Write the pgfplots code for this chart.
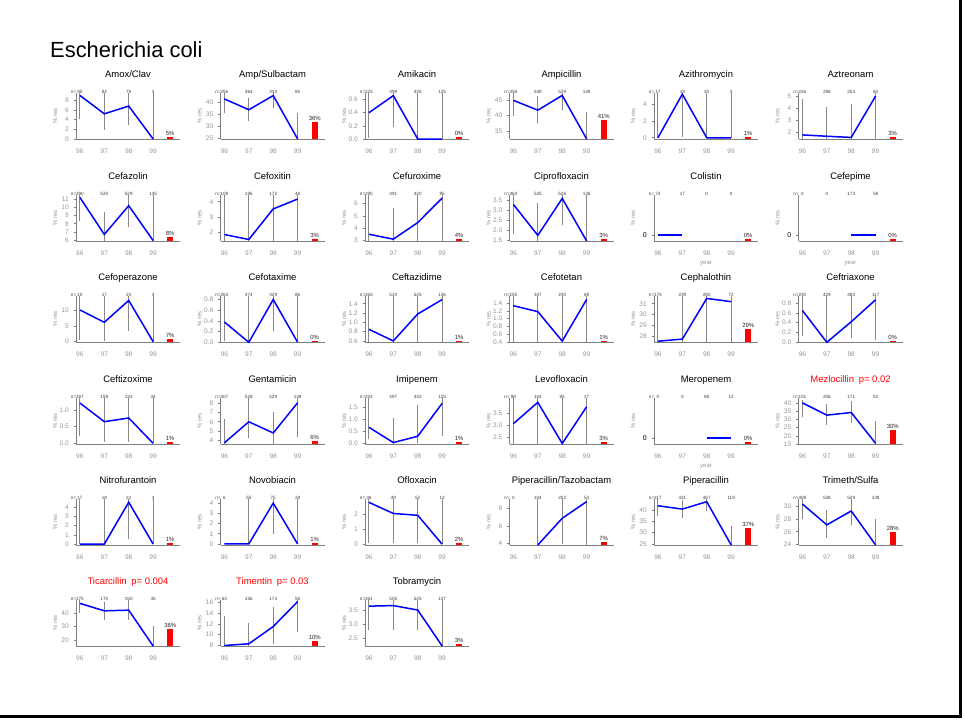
\documentclass[border=0pt]{standalone}
\usepackage{pgfplots}
\pgfplotsset{compat=1.18}
\usepackage{fontspec}
\setmainfont{Liberation Sans}
\definecolor{axgray}{RGB}{128,128,128}
\definecolor{labgray}{RGB}{150,150,150}
\definecolor{ebgray}{RGB}{135,135,135}
\definecolor{ngray}{RGB}{60,60,60}
\definecolor{pgray}{RGB}{40,40,40}
\def\cA{76bp}\def\cB{220.5bp}\def\cC{365bp}\def\cD{509.5bp}\def\cE{654bp}\def\cF{798.5bp}
\def\rA{139bp}\def\rB{241bp}\def\rC{342.3bp}\def\rD{444bp}\def\rE{545bp}\def\rF{646bp}
\pgfplotsset{
 pan/.style={
  width=104bp, height=46bp, scale only axis,
  xmin=95.84, xmax=100.1, xtick={96,97,98,99}, xticklabels={96,97,98,99},
  axis x line*=bottom, axis y line*=left,
  axis line style={draw=axgray, line width=0.9bp},
  xtick style={draw=none},
  ytick style={draw=axgray, line width=0.6bp},
  major tick length=2.5bp, tick align=outside,
  tick label style={font=\fontsize{6.6}{7}\selectfont, text=labgray},
  xticklabel style={yshift=-3.5bp},
  yticklabel style={xshift=-1.2bp},
  title style={font=\fontsize{9.5}{10}\selectfont, at={(0.5,1)}, anchor=base, yshift=9.5bp},
  clip=false, anchor=south west,
  /pgf/number format/assume math mode=true,
 },
 spec/.style={ymin=-0.15, ymax=1, ytick={0}, yticklabels={0},
  yticklabel style={text=black, font=\fontsize{7}{7}\selectfont},
  xlabel={year}, xlabel style={font=\fontsize{6}{6}\selectfont, text=labgray, at={(axis description cs:0.5,0)}, anchor=center, yshift=-23bp}},
}
\tikzset{nl/.style={font=\fontsize{4.6}{5}\selectfont, text=ngray, inner sep=0pt, yshift=1bp},
 pl/.style={font=\fontsize{6}{6}\selectfont, text=pgray, anchor=south, inner sep=1.2bp}}
\newcommand\eb[1]{\addplot[ebgray, line width=0.9bp, unbounded coords=jump, forget plot] coordinates {#1};}
\newcommand\bl[1]{\addplot[blue, line width=1.5bp, forget plot] coordinates {#1};}
\newcommand\pbar[1]{%
 \pgfmathsetmacro\bt{(\ymn)+max(#1/100,0.035)*((\ymx)-(\ymn))}%
 \addplot[fill=red, draw=none, forget plot] coordinates {(99.58,\ymn) (99.82,\ymn) (99.82,\bt) (99.58,\bt)} -- cycle;
 \node[pl] at (axis cs:99.7,\bt) {#1\%};}
\newcommand\nlab[4]{%
 \node[nl] at (axis cs:96,\ymx) {#1};
 \node[nl] at (axis cs:97,\ymx) {#2};
 \node[nl] at (axis cs:98,\ymx) {#3};
 \node[nl] at (axis cs:99,\ymx) {#4};
 \node[nl,anchor=east] at ([xshift=-3.5bp]axis cs:96,\ymx) {n=};}
\newcommand\yl{\node[rotate=90, font=\fontsize{6}{6}\selectfont, text=labgray] at ([xshift=-21bp]axis description cs:0,0.5) {\% res};}
\begin{document}
\begin{tikzpicture}
\useasboundingbox (0,0) rectangle (965bp,-723bp);
\fill[white] (0,0) rectangle (965bp,-723bp);
\draw[black, line width=2.5bp] (960.5bp,0) -- (960.5bp,-716.5bp) -- (0,-716.5bp);
\node[anchor=base west, font=\fontsize{22}{24}\selectfont, inner sep=0pt] at (50bp,-57bp) {Escherichia coli};

% ---------- Row 1
\def\ymn{0}\def\ymx{9.5}
\begin{axis}[pan, at={(\cA,-\rA)}, ymin=\ymn, ymax=\ymx, ytick={0,2,4,6,8}, yticklabels={0,2,4,6,8}, title={Amox/Clav}]
\eb{(96,4.1)(96,\ymx)(96,nan)(97,1.9)(97,\ymx)(97,nan)(98,2.8)(98,\ymx)(98,nan)(99,0)(99,\ymx)}
\bl{(96,9.0)(97,5.2)(98,6.8)(99,0)}
\pbar{5}\nlab{90}{84}{79}{4}\yl
\end{axis}

\def\ymn{24.6}\def\ymx{44.1}
\begin{axis}[pan, at={(\cB,-\rA)}, ymin=\ymn, ymax=\ymx, ytick={25,30,35,40}, yticklabels={25,30,35,40}, title={Amp/Sulbactam}]
\eb{(96,35.6)(96,\ymx)(96,nan)(97,32.3)(97,42.1)(97,nan)(98,37.6)(98,\ymx)(98,nan)(99,24.6)(99,35.8)}
\bl{(96,41.6)(97,37.0)(98,43.0)(99,24.6)}
\pbar{36}\nlab{256}{364}{333}{85}\yl
\end{axis}

\def\ymn{0}\def\ymx{0.70}
\begin{axis}[pan, at={(\cC,-\rA)}, ymin=\ymn, ymax=\ymx, ytick={0,0.2,0.4,0.6}, yticklabels={0.0,0.2,0.4,0.6}, title={Amikacin}]
\eb{(96,0.02)(96,\ymx)(96,nan)(97,0.19)(97,\ymx)(97,nan)(98,0)(98,\ymx)(98,nan)(99,0)(99,\ymx)}
\bl{(96,0.40)(97,0.66)(98,0)(99,0)}
\pbar{0}\nlab{223}{399}{435}{125}\yl
\end{axis}

\def\ymn{32.4}\def\ymx{47.4}
\begin{axis}[pan, at={(\cD,-\rA)}, ymin=\ymn, ymax=\ymx, ytick={35,40,45}, yticklabels={35,40,45}, title={Ampicillin}]
\eb{(96,39.9)(96,\ymx)(96,nan)(97,37.5)(97,46.3)(97,nan)(98,41.9)(98,\ymx)(98,nan)(99,32.4)(99,41.2)}
\bl{(96,45.0)(97,41.8)(98,46.6)(99,32.4)}
\pbar{41}\nlab{458}{538}{529}{138}\yl
\end{axis}

\def\ymn{-0.15}\def\ymx{5.4}
\begin{axis}[pan, at={(\cE,-\rA)}, ymin=\ymn, ymax=\ymx, ytick={0,2,4}, yticklabels={0,2,4}, title={Azithromycin}]
\eb{(96,0)(96,\ymx)(96,nan)(97,0.1)(97,\ymx)(97,nan)(98,0)(98,\ymx)(98,nan)(99,0)(99,\ymx)}
\bl{(96,0)(97,5.26)(98,0)(99,0)}
\pbar{1}\nlab{17}{19}{20}{3}\yl
\end{axis}

\def\ymn{1.47}\def\ymx{5.3}
\begin{axis}[pan, at={(\cF,-\rA)}, ymin=\ymn, ymax=\ymx, ytick={2,3,4,5}, yticklabels={2,3,4,5}, title={Aztreonam}]
\eb{(96,1.47)(96,4.83)(96,nan)(97,1.47)(97,4.1)(97,nan)(98,1.47)(98,4.35)(98,nan)(99,1.47)(99,\ymx)}
\bl{(96,1.81)(97,1.70)(98,1.60)(99,5.05)}
\pbar{3}\nlab{226}{298}{253}{60}\yl
\end{axis}

% ---------- Row 2
\def\ymn{5.9}\def\ymx{11.5}
\begin{axis}[pan, at={(\cA,-\rB)}, ymin=\ymn, ymax=\ymx, ytick={6,7,8,9,10,11}, yticklabels={6,7,8,9,10,11}, title={Cefazolin}]
\eb{(96,8.3)(96,\ymx)(96,nan)(97,5.9)(97,9.4)(97,nan)(98,7.6)(98,\ymx)(98,nan)(99,5.9)(99,\ymx)}
\bl{(96,11.2)(97,6.7)(98,10.2)(99,5.95)}
\pbar{8}\nlab{390}{520}{529}{135}\yl
\end{axis}

\def\ymn{1.4}\def\ymx{4.45}
\begin{axis}[pan, at={(\cB,-\rB)}, ymin=\ymn, ymax=\ymx, ytick={2,3,4}, yticklabels={2,3,4}, title={Cefoxitin}]
\eb{(96,1.4)(96,\ymx)(96,nan)(97,1.4)(97,\ymx)(97,nan)(98,1.4)(98,\ymx)(98,nan)(99,1.4)(99,\ymx)}
\bl{(96,1.83)(97,1.5)(98,3.53)(99,4.18)}
\pbar{3}\nlab{108}{196}{172}{48}\yl
\end{axis}

\def\ymn{2.95}\def\ymx{6.7}
\begin{axis}[pan, at={(\cC,-\rB)}, ymin=\ymn, ymax=\ymx, ytick={3,4,5,6}, yticklabels={3,4,5,6}, title={Cefuroxime}]
\eb{(96,2.95)(96,\ymx)(96,nan)(97,2.95)(97,5.6)(97,nan)(98,2.95)(98,\ymx)(98,nan)(99,2.95)(99,\ymx)}
\bl{(96,3.5)(97,3.1)(98,4.45)(99,6.45)}
\pbar{4}\nlab{290}{391}{320}{95}\yl
\end{axis}

\def\ymn{1.47}\def\ymx{3.75}
\begin{axis}[pan, at={(\cD,-\rB)}, ymin=\ymn, ymax=\ymx, ytick={1.5,2,2.5,3,3.5}, yticklabels={1.5,2.0,2.5,3.0,3.5}, title={Ciprofloxacin}]
\eb{(96,1.84)(96,\ymx)(96,nan)(97,1.47)(97,3.35)(97,nan)(98,2.25)(98,\ymx)(98,nan)(99,1.47)(99,\ymx)}
\bl{(96,3.28)(97,1.75)(98,3.58)(99,1.47)}
\pbar{3}\nlab{363}{525}{526}{136}\yl
\end{axis}

\def\ymn{-0.15}\def\ymx{1}
\begin{axis}[pan, spec, at={(\cE,-\rB)}, title={Colistin}]
\bl{(96,0)(97,0)}
\pbar{0}\nlab{74}{17}{0}{0}\yl
\end{axis}

\def\ymn{-0.15}\def\ymx{1}
\begin{axis}[pan, spec, at={(\cF,-\rB)}, title={Cefepime}]
\bl{(98,0)(99,0)}
\pbar{0}\nlab{0}{0}{173}{58}\yl
\end{axis}

% ---------- Row 3
\def\ymn{-0.2}\def\ymx{14.3}
\begin{axis}[pan, at={(\cA,-\rC)}, ymin=\ymn, ymax=\ymx, ytick={0,5,10}, yticklabels={0,5,10}, title={Cefoperazone}]
\eb{(96,0.5)(96,\ymx)(96,nan)(97,0.3)(97,\ymx)(97,nan)(98,3.5)(98,\ymx)(98,nan)(99,0)(99,\ymx)}
\bl{(96,10)(97,6.1)(98,13.0)(99,0)}
\pbar{7}\nlab{10}{17}{23}{3}\yl
\end{axis}

\def\ymn{0}\def\ymx{0.86}
\begin{axis}[pan, at={(\cB,-\rC)}, ymin=\ymn, ymax=\ymx, ytick={0,0.2,0.4,0.6,0.8}, yticklabels={0.0,0.2,0.4,0.6,0.8}, title={Cefotaxime}]
\eb{(96,0.02)(96,\ymx)(96,nan)(97,0)(97,\ymx)(97,nan)(98,0.21)(98,\ymx)(98,nan)(99,0)(99,\ymx)}
\bl{(96,0.38)(97,0)(98,0.8)(99,0)}
\pbar{0}\nlab{263}{374}{329}{86}\yl
\end{axis}

\def\ymn{0.57}\def\ymx{1.56}
\begin{axis}[pan, at={(\cC,-\rC)}, ymin=\ymn, ymax=\ymx, ytick={0.6,0.8,1.0,1.2,1.4}, yticklabels={0.6,0.8,1.0,1.2,1.4}, title={Ceftazidime}]
\eb{(96,0.57)(96,\ymx)(96,nan)(97,0.57)(97,\ymx)(97,nan)(98,0.57)(98,\ymx)(98,nan)(99,0.57)(99,\ymx)}
\bl{(96,0.85)(97,0.6)(98,1.18)(99,1.49)}
\pbar{1}\nlab{263}{524}{525}{136}\yl
\end{axis}

\def\ymn{0.4}\def\ymx{1.57}
\begin{axis}[pan, at={(\cD,-\rC)}, ymin=\ymn, ymax=\ymx, ytick={0.4,0.6,0.8,1.0,1.2,1.4}, yticklabels={0.4,0.6,0.8,1.0,1.2,1.4}, title={Cefotetan}]
\eb{(96,0.4)(96,\ymx)(96,nan)(97,0.4)(97,\ymx)(97,nan)(98,0.4)(98,\ymx)(98,nan)(99,0.4)(99,\ymx)}
\bl{(96,1.33)(97,1.18)(98,0.43)(99,1.49)}
\pbar{1}\nlab{155}{347}{230}{69}\yl
\end{axis}

\def\ymn{27.4}\def\ymx{31.7}
\begin{axis}[pan, at={(\cE,-\rC)}, ymin=\ymn, ymax=\ymx, ytick={28,29,30,31}, yticklabels={28,29,30,31}, title={Cephalothin}]
\eb{(96,27.4)(96,\ymx)(96,nan)(97,27.4)(97,\ymx)(97,nan)(98,27.4)(98,\ymx)(98,nan)(99,27.4)(99,\ymx)}
\bl{(96,27.5)(97,27.7)(98,31.5)(99,31.2)}
\pbar{29}\nlab{175}{239}{280}{72}\yl
\end{axis}

\def\ymn{0}\def\ymx{0.94}
\begin{axis}[pan, at={(\cF,-\rC)}, ymin=\ymn, ymax=\ymx, ytick={0,0.2,0.4,0.6,0.8}, yticklabels={0.0,0.2,0.4,0.6,0.8}, title={Ceftriaxone}]
\eb{(96,0.13)(96,\ymx)(96,nan)(97,0)(97,\ymx)(97,nan)(98,0.09)(98,\ymx)(98,nan)(99,0.05)(99,\ymx)}
\bl{(96,0.65)(97,0)(98,0.42)(99,0.87)}
\pbar{0}\nlab{230}{429}{482}{117}\yl
\end{axis}

% ---------- Row 4
\def\ymn{-0.02}\def\ymx{1.36}
\begin{axis}[pan, at={(\cA,-\rD)}, ymin=\ymn, ymax=\ymx, ytick={0,0.5,1}, yticklabels={0.0,0.5,1.0}, title={Ceftizoxime}]
\eb{(96,0.21)(96,\ymx)(96,nan)(97,0.05)(97,\ymx)(97,nan)(98,0.05)(98,\ymx)(98,nan)(99,0)(99,\ymx)}
\bl{(96,1.21)(97,0.65)(98,0.76)(99,0)}
\pbar{1}\nlab{167}{159}{133}{34}\yl
\end{axis}

\def\ymn{3.57}\def\ymx{8.6}
\begin{axis}[pan, at={(\cB,-\rD)}, ymin=\ymn, ymax=\ymx, ytick={4,5,6,7,8}, yticklabels={4,5,6,7,8}, title={Gentamicin}]
\eb{(96,3.57)(96,6.3)(96,nan)(97,4.2)(97,\ymx)(97,nan)(98,3.57)(98,7.1)(98,nan)(99,4.3)(99,\ymx)}
\bl{(96,3.7)(97,6.0)(98,4.78)(99,8.08)}
\pbar{6}\nlab{407}{528}{529}{138}\yl
\end{axis}

\def\ymn{-0.03}\def\ymx{1.87}
\begin{axis}[pan, at={(\cC,-\rD)}, ymin=\ymn, ymax=\ymx, ytick={0,0.5,1,1.5}, yticklabels={0.0,0.5,1.0,1.5}, title={Imipenem}]
\eb{(96,0.16)(96,\ymx)(96,nan)(97,-0.03)(97,1.04)(97,nan)(98,0)(98,1.57)(98,nan)(99,0.32)(99,\ymx)}
\bl{(96,0.66)(97,0.03)(98,0.29)(99,1.65)}
\pbar{1}\nlab{333}{497}{432}{125}\yl
\end{axis}

\def\ymn{2.23}\def\ymx{4.13}
\begin{axis}[pan, at={(\cD,-\rD)}, ymin=\ymn, ymax=\ymx, ytick={2.5,3,3.5}, yticklabels={2.5,3.0,3.5}, title={Levofloxacin}]
\eb{(96,2.23)(96,\ymx)(96,nan)(97,2.23)(97,\ymx)(97,nan)(98,2.23)(98,\ymx)(98,nan)(99,2.23)(99,\ymx)}
\bl{(96,3.07)(97,3.95)(98,2.25)(99,3.77)}
\pbar{3}\nlab{98}{104}{85}{27}\yl
\end{axis}

\def\ymn{-0.15}\def\ymx{1}
\begin{axis}[pan, spec, at={(\cE,-\rD)}, title={Meropenem}]
\bl{(98,0)(99,0)}
\pbar{0}\nlab{0}{0}{88}{12}\yl
\end{axis}

\def\ymn{15}\def\ymx{43.2}
\begin{axis}[pan, at={(\cF,-\rD)}, ymin=\ymn, ymax=\ymx, ytick={15,20,25,30,35,40}, yticklabels={15,20,25,30,35,40}, title={Mezlocillin\enspace p= 0.02}, title style={text=red}]
\eb{(96,31.4)(96,41.8)(96,nan)(97,26.6)(97,39.6)(97,nan)(98,27.6)(98,41.6)(98,nan)(99,15)(99,28.8)}
\bl{(96,40.2)(97,32.7)(98,34.3)(99,15.4)}
\pbar{30}\nlab{101}{206}{171}{53}\yl
\end{axis}

% ---------- Row 5
\def\ymn{-0.1}\def\ymx{4.9}
\begin{axis}[pan, at={(\cA,-\rE)}, ymin=\ymn, ymax=\ymx, ytick={0,1,2,3,4}, yticklabels={0,1,2,3,4}, title={Nitrofurantoin}]
\eb{(96,0)(96,\ymx)(96,nan)(97,0)(97,\ymx)(97,nan)(98,0.5)(98,\ymx)(98,nan)(99,0)(99,\ymx)}
\bl{(96,0)(97,0)(98,4.55)(99,0)}
\pbar{1}\nlab{17}{18}{22}{3}\yl
\end{axis}

\def\ymn{-0.1}\def\ymx{4.4}
\begin{axis}[pan, at={(\cB,-\rE)}, ymin=\ymn, ymax=\ymx, ytick={0,1,2,3,4}, yticklabels={0,1,2,3,4}, title={Novobiacin}]
\eb{(97,0)(97,\ymx)(97,nan)(98,1.0)(98,\ymx)(98,nan)(99,0)(99,\ymx)}
\bl{(96,0)(97,0)(98,4.0)(99,0)}
\pbar{1}\nlab{6}{55}{75}{28}\yl
\end{axis}

\def\ymn{-0.05}\def\ymx{3.0}
\begin{axis}[pan, at={(\cC,-\rE)}, ymin=\ymn, ymax=\ymx, ytick={0,1,2}, yticklabels={0,1,2}, title={Ofloxacin}]
\eb{(96,0.1)(96,\ymx)(96,nan)(97,0.1)(97,\ymx)(97,nan)(98,0.05)(98,\ymx)(98,nan)(99,0)(99,\ymx)}
\bl{(96,2.78)(97,2.04)(98,1.92)(99,0)}
\pbar{2}\nlab{36}{49}{52}{13}\yl
\end{axis}

\def\ymn{3.85}\def\ymx{9.1}
\begin{axis}[pan, at={(\cD,-\rE)}, ymin=\ymn, ymax=\ymx, ytick={4,6,8}, yticklabels={4,6,8}, title={Piperacillin/Tazobactam}]
\eb{(97,3.85)(97,\ymx)(97,nan)(98,4.0)(98,\ymx)(98,nan)(99,3.9)(99,\ymx)}
\bl{(97,3.85)(98,6.9)(99,8.8)}
\pbar{7}\nlab{0}{104}{202}{54}\yl
\end{axis}

\def\ymn{24.5}\def\ymx{45}
\begin{axis}[pan, at={(\cE,-\rE)}, ymin=\ymn, ymax=\ymx, ytick={25,30,35,40}, yticklabels={25,30,35,40}, title={Piperacillin}]
\eb{(96,37.5)(96,\ymx)(96,nan)(97,36.5)(97,44.5)(97,nan)(98,39.5)(98,\ymx)(98,nan)(99,24.5)(99,33)}
\bl{(96,42)(97,40.5)(98,43.8)(99,24.5)}
\pbar{37}\nlab{317}{431}{467}{119}\yl
\end{axis}

\def\ymn{23.9}\def\ymx{31.2}
\begin{axis}[pan, at={(\cF,-\rE)}, ymin=\ymn, ymax=\ymx, ytick={24,26,28,30}, yticklabels={24,26,28,30}, title={Trimeth/Sulfa}]
\eb{(96,28)(96,\ymx)(96,nan)(97,25)(97,29.5)(97,nan)(98,27)(98,\ymx)(98,nan)(99,23.9)(99,28)}
\bl{(96,30.4)(97,27.1)(98,29.3)(99,23.9)}
\pbar{28}\nlab{408}{538}{529}{138}\yl
\end{axis}

% ---------- Row 6
\def\ymn{15.5}\def\ymx{49.5}
\begin{axis}[pan, at={(\cA,-\rF)}, ymin=\ymn, ymax=\ymx, ytick={20,30,40}, yticklabels={20,30,40}, title={Ticarcillin\enspace p= 0.004}, title style={text=red}]
\eb{(96,40)(96,\ymx)(96,nan)(97,35)(97,48)(97,nan)(98,35)(98,\ymx)(98,nan)(99,15.5)(99,30)}
\bl{(96,47)(97,41.5)(98,42)(99,15.5)}
\pbar{36}\nlab{175}{170}{150}{45}\yl
\end{axis}

\def\ymn{7.9}\def\ymx{16.4}
\begin{axis}[pan, at={(\cB,-\rF)}, ymin=\ymn, ymax=\ymx, ytick={8,10,12,14,16}, yticklabels={8,10,12,14,16}, title={Timentin\enspace p= 0.03}, title style={text=red}]
\eb{(96,7.9)(96,13.5)(96,nan)(97,7.9)(97,12.2)(97,nan)(98,8.3)(98,15.2)(98,nan)(99,10.5)(99,\ymx)}
\bl{(96,8.0)(97,8.3)(98,11.5)(99,16.1)}
\pbar{10}\nlab{63}{156}{174}{56}\yl
\end{axis}

\def\ymn{2.21}\def\ymx{3.86}
\begin{axis}[pan, at={(\cC,-\rF)}, ymin=\ymn, ymax=\ymx, ytick={2.5,3,3.5}, yticklabels={2.5,3.0,3.5}, title={Tobramycin}]
\eb{(96,2.8)(96,\ymx)(96,nan)(97,2.8)(97,\ymx)(97,nan)(98,2.8)(98,\ymx)(98,nan)(99,2.21)(99,\ymx)}
\bl{(96,3.64)(97,3.66)(98,3.5)(99,2.21)}
\pbar{3}\nlab{261}{505}{525}{137}\yl
\end{axis}
\end{tikzpicture}
\end{document}
